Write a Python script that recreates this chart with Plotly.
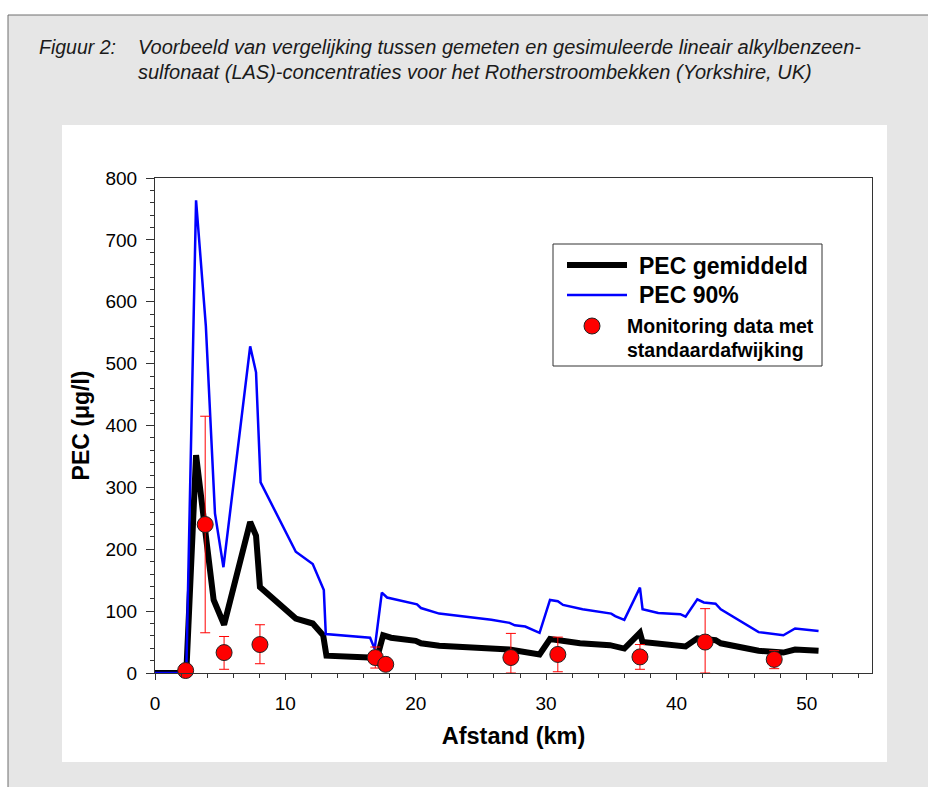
import plotly.graph_objects as go

# ---------------- data ----------------
pec90_km = [0, 2.4, 3.15, 3.9, 4.6, 5.25, 7.3, 7.75, 8.1, 10.8, 12.1, 12.95, 13.1, 16.5, 16.85,
            17.4, 17.8, 18.8, 20.1, 20.4, 21.8, 25.8, 27.2, 27.6, 28.4, 29.5, 30.3, 30.9, 31.3,
            32.8, 35.0, 35.3, 36.0, 37.2, 37.4, 38.6, 40.3, 40.7, 41.6, 42.1, 43.0, 43.4, 46.3,
            48.2, 49.1, 50.9]
pec90_val = [0, 0, 764, 561, 258, 171, 528, 486, 308, 196, 176, 134, 63, 57, 39,
             130, 122, 117, 111, 105, 96, 86, 81, 77, 75, 65, 118, 116, 110,
             103, 96, 92, 86, 138, 103, 97, 95, 91, 119, 114, 112, 103, 66,
             61, 72, 68]

pecmean_km = [0, 2.4, 3.15, 4.5, 5.3, 7.3, 7.75, 8.05, 10.8, 12.1, 12.9, 13.15, 16.4, 16.95,
              17.5, 18.1, 20.0, 20.4, 21.8, 25.8, 27.2, 29.5, 30.3, 32.6, 34.9, 36.0, 37.2,
              37.4, 39.4, 40.7, 41.6, 43.0, 43.4, 46.3, 48.2, 49.1, 50.9]
pecmean_val = [0, 0, 352, 118, 78, 244, 222, 139, 88, 80, 61, 28, 25, 18,
               61, 57, 52, 48, 44, 39.5, 38, 30, 55, 48, 45, 39.5, 65,
               50, 46.5, 43, 56, 53, 48, 36, 33, 38, 36]

obs_km = [2.35, 3.85, 5.3, 8.05, 16.9, 17.7, 27.3, 30.9, 37.2, 42.2, 47.5]
obs_val = [4, 240, 33, 46, 25, 14, 25, 30, 26, 50, 22]
obs_err_plus = [0, 175, 26, 32, 17, 0, 39, 28, 20, 54, 14]
obs_err_minus = [0, 175, 27, 31, 17, 0, 25, 28, 20, 50, 15]

x_ticks = [0, 10, 20, 30, 40, 50]
y_ticks = [0, 100, 200, 300, 400, 500, 600, 700, 800]

title_label = "Figuur 2:"
title_lines = ["Voorbeeld van vergelijking tussen gemeten en gesimuleerde lineair alkylbenzeen-",
               "sulfonaat (LAS)-concentraties voor het Rotherstroombekken (Yorkshire, UK)"]
legend_names = ["PEC gemiddeld", "PEC 90%", "Monitoring data met", "standaardafwijking"]

# ---------------- layout geometry (pixels) ----------------
W, H = 928, 787
L, R, T, B = 155, 872, 178, 673
FONT = "Arial, Liberation Sans, Helvetica, sans-serif"


def px(x):
    return (x - L) / (R - L)


def py(y):
    return (B - y) / (B - T)


fig = go.Figure()

fig.add_trace(go.Scatter(x=pecmean_km, y=pecmean_val, mode="lines", name="PEC gemiddeld",
                         line=dict(color="black", width=6), showlegend=False, cliponaxis=False))
fig.add_trace(go.Scatter(x=pec90_km, y=pec90_val, mode="lines", name="PEC 90%",
                         line=dict(color="#0000ff", width=2.5), showlegend=False, cliponaxis=False))
fig.add_trace(go.Scatter(x=obs_km, y=obs_val, mode="markers", name="Monitoring data met standaardafwijking",
                         marker=dict(color="#ff0000", size=16, line=dict(color="#222222", width=1)),
                         error_y=dict(type="data", array=obs_err_plus, arrayminus=obs_err_minus,
                                      color="#ff0000", thickness=1, width=5),
                         showlegend=False, cliponaxis=False))

shapes = []
# gray page with frame line at left/top
shapes.append(dict(type="rect", xref="paper", yref="paper", layer="below",
                   x0=px(8), x1=px(W + 5), y0=py(15), y1=py(H + 5),
                   fillcolor="#e6e6e6", line=dict(color="#6e6e6e", width=1)))
# white panel
shapes.append(dict(type="rect", xref="paper", yref="paper", layer="below",
                   x0=px(62), x1=px(887), y0=py(125), y1=py(762),
                   fillcolor="white", line=dict(width=0)))
# legend box
shapes.append(dict(type="rect", xref="paper", yref="paper",
                   x0=px(553), x1=px(822), y0=py(244), y1=py(366),
                   fillcolor="white", line=dict(color="#333333", width=1)))
shapes.append(dict(type="line", xref="paper", yref="paper",
                   x0=px(567), x1=px(627), y0=py(265), y1=py(265),
                   line=dict(color="black", width=6)))
shapes.append(dict(type="line", xref="paper", yref="paper",
                   x0=px(567), x1=px(627), y0=py(295), y1=py(295),
                   line=dict(color="#0000ff", width=2.5)))
shapes.append(dict(type="circle", xref="paper", yref="paper",
                   x0=px(584), x1=px(600), y0=py(318), y1=py(334),
                   fillcolor="#ff0000", line=dict(color="#222222", width=1)))

annotations = []
annotations.append(dict(text=title_label, xref="paper", yref="paper", x=px(37), y=py(47),
                        xanchor="left", yanchor="middle", showarrow=False,
                        font=dict(family=FONT, size=19.5, color="#1a1a1a", style="italic")))
for i, line in enumerate(title_lines):
    annotations.append(dict(text=line, xref="paper", yref="paper", x=px(136), y=py(47 + 25 * i),
                            xanchor="left", yanchor="middle", showarrow=False,
                            font=dict(family=FONT, size=20, color="#1a1a1a", style="italic")))
leg_pos = [(637, 266, 23), (637, 295, 23), (625, 326, 19.5), (625, 350, 19.5)]
for name, (lx, ly, fs) in zip(legend_names, leg_pos):
    annotations.append(dict(text="<b>" + name + "</b>", xref="paper", yref="paper", x=px(lx), y=py(ly),
                            xanchor="left", yanchor="middle", showarrow=False,
                            font=dict(family=FONT, size=fs, color="black")))

fig.update_layout(
    width=W, height=H,
    margin=dict(l=L, r=W - R, t=T, b=H - B, pad=0),
    paper_bgcolor="white", plot_bgcolor="white",
    font=dict(family=FONT, color="black"),
    shapes=shapes, annotations=annotations,
    showlegend=False,
)

fig.update_xaxes(range=[0, 55], tickvals=x_ticks, ticks="outside", ticklen=6, tickwidth=1,
                 tickcolor="#333333", showline=True, linecolor="#333333", linewidth=1, mirror=True,
                 showgrid=False, zeroline=False, tickfont=dict(size=19), ticklabelstandoff=7,
                 minor=dict(dtick=2, ticks="outside", ticklen=4, tickcolor="#333333", showgrid=False),
                 title=dict(text="<b>Afstand (km)</b>", font=dict(size=23.5), standoff=14))
fig.update_yaxes(range=[0, 800], tickvals=y_ticks, ticks="outside", ticklen=8, tickwidth=1,
                 tickcolor="#333333", showline=True, linecolor="#333333", linewidth=1, mirror=True,
                 showgrid=False, zeroline=False, tickfont=dict(size=19), ticklabelstandoff=5,
                 minor=dict(dtick=20, ticks="outside", ticklen=4, tickcolor="#333333", showgrid=False),
                 title=dict(text="<b>PEC (μg/l)</b>", font=dict(size=23), standoff=9))

fig.write_html("out.html")
